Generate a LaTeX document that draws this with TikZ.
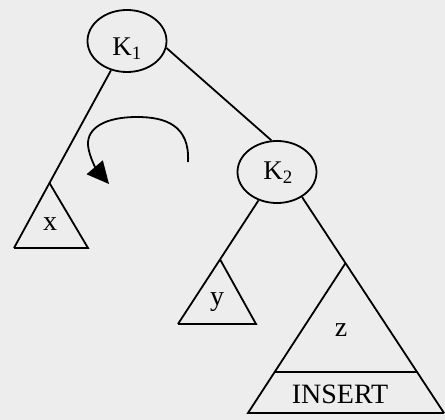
\documentclass[tikz,border=0pt]{standalone}
\usepackage{fontspec}
\setmainfont{Liberation Serif}
\usetikzlibrary{shapes.geometric,arrows.meta,calc}
\tikzset{
  keynode/.style={draw, ellipse, line width=1.8pt, minimum width=79pt, minimum height=62pt, inner sep=0pt},
  edge/.style={line width=1.8pt, line join=miter},
  lbl/.style={inner sep=0pt, font=\fontsize{28}{32}\selectfont},
  klbl/.style={inner sep=0pt, font=\fontsize{27}{30}\selectfont},
  turn/.style={line width=1.8pt, -{Triangle[length=22pt,width=21pt]}}
}
\begin{document}
\begin{tikzpicture}[x=1pt,y=-1pt]
\fill[black!7] (0,0) rectangle (445,420);
\useasboundingbox (0,0) rectangle (445,420);
% key nodes
\node[keynode] (k1) at (127,41) {};
\node[klbl] (k1t) at (127,49) {K\textsubscript{1}};
\node[keynode] (k2) at (277,172) {};
\node[klbl] (k2t) at (278,173) {K\textsubscript{2}};
% triangle corners
\coordinate (xl) at (14,248);
\coordinate (xr) at (88,248);
\coordinate (yl) at (178,324);
\coordinate (yr) at (256,324);
\coordinate (zl) at (248,413);
\coordinate (zr) at (444,413);
\coordinate (xa) at ($(k1)!0.686!(xl)$);
\coordinate (ya) at ($(k2)!0.575!(yl)$);
\coordinate (za) at ($(k2.-45)!0.306!(zr)$);
\coordinate (zml) at ($(za)!0.728!(zl)$);
\coordinate (zmr) at ($(za)!0.728!(zr)$);
% edges
\draw[edge] (k1) -- (xl);
\draw[edge] (k1.-10) -- (k2.100);
\draw[edge] (k2) -- (yl);
\draw[edge] (k2.-45) -- (zr);
% subtrees
\draw[edge] (xa) -- (xr) -- (xl);
\draw[edge] (ya) -- (yr) -- (yl);
\draw[edge] (za) -- (zl) -- (zr);
\draw[edge] (zml) -- (zmr);
% labels
\node[lbl] (xt) at (50,224) {x};
\node[lbl] (yt) at (217,302) {y};
\node[lbl] (zt) at (341,330) {z};
\node[lbl] (ins) at (340,394) {INSERT};
% rotation arrow
\coordinate (rs) at (188,162);
\coordinate (re) at (109,184);
\draw[turn] (rs) .. controls (190,125) and (165,117) .. (137,117)
  .. controls (105,117) and (87,128) .. (88,145)
  .. controls (89,157) and (97,170) .. (re);
\end{tikzpicture}
\end{document}
